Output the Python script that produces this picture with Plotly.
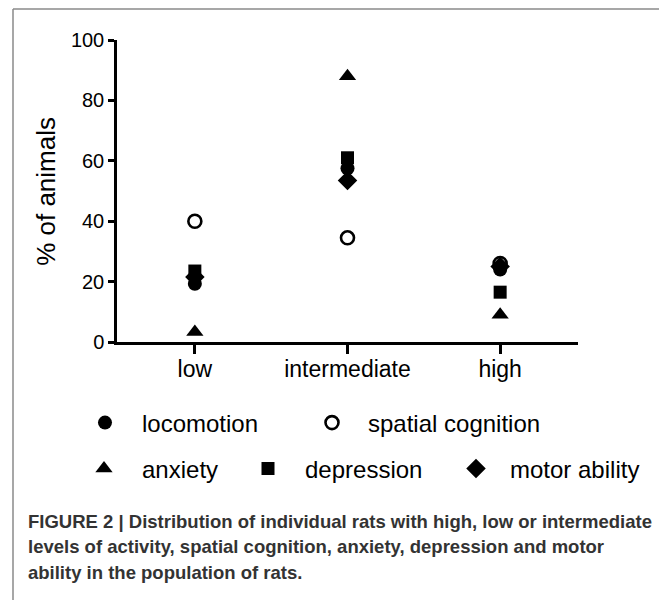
import plotly.graph_objects as go

categories = ["low", "intermediate", "high"]
locomotion = [19.3, 57.5, 24.0]
spatial_cognition = [40.0, 34.5, 26.0]
anxiety = [3.3, 88.0, 9.0]
depression = [23.5, 61.0, 16.5]
motor_ability = [21.5, 53.5, 25.0]
y_ticks = [0, 20, 40, 60, 80, 100]

# page body adds an 8px offset; figure sized so it fits the window
O = 8
W, H = 667 - O, 600 - O
PLOT_L, PLOT_R, PLOT_T, PLOT_B = 117, 578, 40, 342.3  # reference pixels
L, R, T, B = PLOT_L - O, W - (PLOT_R - O), PLOT_T - O, H - (PLOT_B - O)
PW, PH = W - L - R, H - T - B

def px(x):
    return (x - O - L) / PW

def py(y):
    return (H - B - (y - O)) / PH

FONT = "Arial, Liberation Sans, sans-serif"

series = [
    ("spatial cognition", spatial_cognition, "circle-open", "legend2", 13),
    ("locomotion", locomotion, "circle", "legend", 14),
    ("anxiety", anxiety, "triangle-up", "legend3", 15),
    ("depression", depression, "square", "legend4", 13),
    ("motor ability", motor_ability, "diamond", "legend5", 15),
]

fig = go.Figure()
for name, vals, sym, lg, sz in series:
    fig.add_trace(go.Scatter(
        x=categories, y=vals, mode="markers", name=name, legend=lg,
        marker=dict(symbol=sym, size=sz, color="black",
                    line=dict(color="black", width=2.6 if sym == "circle-open" else 0)),
    ))

# legend placement: (symbol x, text x, row y) in reference pixels
leg_pos = {
    "legend": (105, 142, 423),
    "legend2": (332, 368, 423),
    "legend3": (104, 142, 469),
    "legend4": (268, 305, 469),
    "legend5": (476, 510, 469),
}
legend_layout = {}
for k, (sx, tx, y) in leg_pos.items():
    gap = tx - sx
    iw = max(30, 2 * (gap - 5))
    left = sx - (iw / 2 + 5)
    legend_layout[k] = dict(
        x=(left - O) / W, y=1 - (y - O) / H, xref="container", yref="container",
        xanchor="left", yanchor="middle", bgcolor="rgba(0,0,0,0)",
        font=dict(family=FONT, size=24, color="black"), itemwidth=iw,
        itemclick=False, itemdoubleclick=False,
    )

frame = dict(type="line", xref="paper", yref="paper",
             line=dict(color="#8a8a8a", width=1.5))
shapes = [
    dict(frame, x0=px(13), x1=px(13), y0=py(9), y1=py(610)),
    dict(frame, x0=px(13), x1=px(665.5), y0=py(9), y1=py(9)),
    dict(frame, x0=px(665.5), x1=px(665.5), y0=py(9), y1=py(610)),
]

caption_lines = [
    "FIGURE 2 | Distribution of individual rats with high, low or intermediate",
    "levels of activity, spatial cognition, anxiety, depression and motor",
    "ability in the population of rats.",
]
caption_y = [522, 547, 573]
annotations = []
for line, y in zip(caption_lines, caption_y):
    annotations.append(dict(
        text="<b>" + line + "</b>", x=px(26), y=py(y), xref="paper", yref="paper",
        xanchor="left", yanchor="middle", showarrow=False,
        font=dict(family=FONT, size=18.5, color="#333333"),
    ))
annotations.append(dict(
    text="% of animals", x=px(46), y=py(192), xref="paper", yref="paper",
    xanchor="center", yanchor="middle", showarrow=False, textangle=-90,
    font=dict(family=FONT, size=26, color="black"),
))

fig.update_layout(
    width=W, height=H,
    margin=dict(l=L, r=R, t=T, b=B, autoexpand=False),
    paper_bgcolor="white", plot_bgcolor="white",
    showlegend=True,
    shapes=shapes, annotations=annotations,
    **legend_layout,
)
fig.update_xaxes(
    type="category", range=[-0.51, 2.51], showgrid=False, zeroline=False,
    showline=True, linecolor="black", linewidth=2.5,
    ticks="outside", ticklen=9, tickwidth=2.5, tickcolor="black",
    ticklabelstandoff=-4,
    tickfont=dict(family=FONT, size=23, color="black"),
)
fig.update_yaxes(
    range=[0, 100], tickvals=y_ticks, showgrid=False, zeroline=False,
    showline=True, linecolor="black", linewidth=2.5,
    ticks="outside", ticklen=6, tickwidth=2.5, tickcolor="black",
    tickfont=dict(family=FONT, size=20, color="black"),
)

fig.write_html("out.html")
